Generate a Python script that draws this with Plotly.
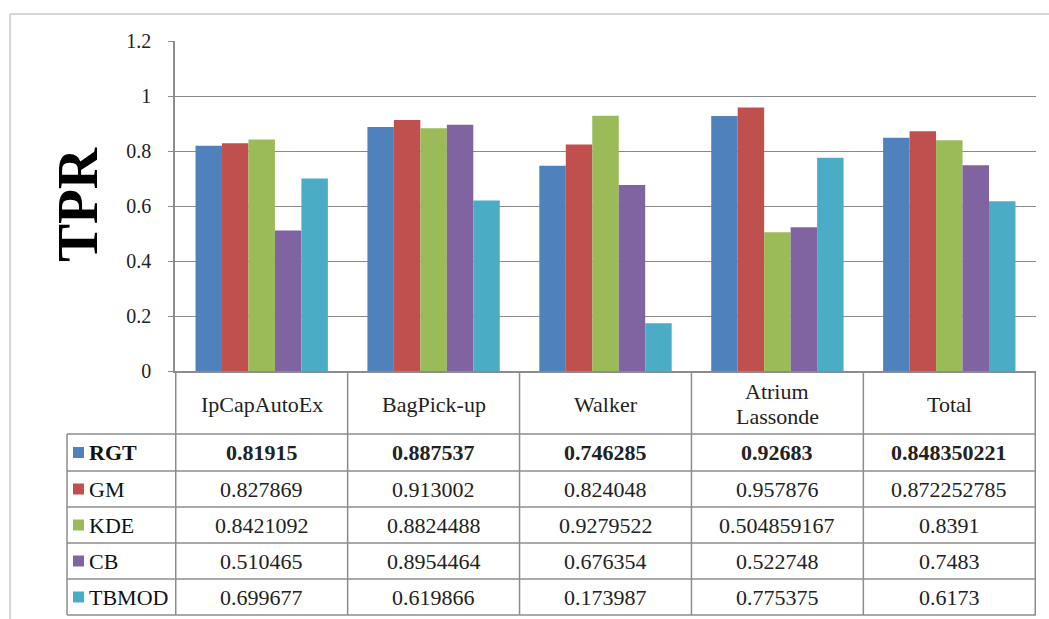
import plotly.graph_objects as go

# ---- data ----
categories = ["IpCapAutoEx", "BagPick-up", "Walker", "Atrium Lassonde", "Total"]
series_names = ["RGT", "GM", "KDE", "CB", "TBMOD"]
rgt = [0.81915, 0.887537, 0.746285, 0.92683, 0.848350221]
gm = [0.827869, 0.913002, 0.824048, 0.957876, 0.872252785]
kde = [0.8421092, 0.8824488, 0.9279522, 0.504859167, 0.8391]
cb = [0.510465, 0.8954464, 0.676354, 0.522748, 0.7483]
tbmod = [0.699677, 0.619866, 0.173987, 0.775375, 0.6173]
series_values = [rgt, gm, kde, cb, tbmod]
colors = ["#4F81BD", "#C0504D", "#9BBB59", "#8064A2", "#4BACC6"]
y_title = "TPR"

W, H = 1049, 619
FONT = "Liberation Serif"
GRID = "#8a8a8a"
LINE = "#8c8c8c"


def px(x):
    return x / W


def py(y):
    return 1 - y / H


fig = go.Figure()
for name, vals, col in zip(series_names, series_values, colors):
    fig.add_trace(go.Bar(x=categories, y=vals, name=name, marker=dict(color=col, line=dict(width=0))))

shapes = []
annotations = []

# outer chart frame (left and top edges visible)
shapes.append(dict(type="line", xref="paper", yref="paper", x0=px(10), x1=px(10), y0=py(14), y1=0,
                   line=dict(color="#c8c8c8", width=1.5)))
shapes.append(dict(type="line", xref="paper", yref="paper", x0=px(10), x1=1, y0=py(14), y1=py(14),
                   line=dict(color="#c8c8c8", width=1.5)))

# data table grid
row_edges = [434, 471, 507, 543, 579, 615]
for k in range(len(categories) + 1):
    shapes.append(dict(type="line", xref="x", yref="paper", x0=k - 0.5, x1=k - 0.5,
                       y0=py(371), y1=py(615), line=dict(color=LINE, width=1.5)))
for ye in row_edges:
    shapes.append(dict(type="line", xref="paper", yref="paper", x0=px(67), x1=px(1036),
                       y0=py(ye), y1=py(ye), line=dict(color=LINE, width=1.5)))
shapes.append(dict(type="line", xref="paper", yref="paper", x0=px(67), x1=px(67),
                   y0=py(434), y1=py(615), line=dict(color=LINE, width=1.5)))

# header labels (multi-word names wrap to two lines)
for c in categories:
    lines = c.split(" ")
    n = len(lines)
    for j, ln in enumerate(lines):
        annotations.append(dict(xref="x", yref="paper", x=c, y=py(404 + (j - (n - 1) / 2) * 25),
                                text=ln, showarrow=False,
                                font=dict(family=FONT, size=22, color="#222222"),
                                xanchor="center", yanchor="middle"))

# table rows with legend keys
for i, (name, vals, col) in enumerate(zip(series_names, series_values, colors)):
    yc = (row_edges[i] + row_edges[i + 1]) / 2
    bold = (i == 0)
    shapes.append(dict(type="rect", xref="paper", yref="paper", x0=px(73), x1=px(84),
                       y0=py(yc + 5.5), y1=py(yc - 5.5), fillcolor=col, line=dict(width=0)))
    annotations.append(dict(xref="paper", yref="paper", x=px(87), y=py(yc),
                            text=f"<b>{name}</b>" if bold else name, showarrow=False,
                            font=dict(family=FONT, size=22, color="#111111"),
                            xanchor="left", yanchor="middle"))
    for c, v in zip(categories, vals):
        annotations.append(dict(xref="x", yref="paper", x=c, y=py(yc),
                                text=f"<b>{v}</b>" if bold else str(v), showarrow=False,
                                font=dict(family=FONT, size=22, color="#222222"),
                                xanchor="center", yanchor="middle"))

# y title
annotations.append(dict(xref="paper", yref="paper", x=px(77), y=py(205), text=f"<b>{y_title}</b>",
                        textangle=-90, showarrow=False, font=dict(family=FONT, size=57, color="#000000"),
                        xanchor="center", yanchor="middle"))

fig.update_layout(
    width=W, height=H,
    margin=dict(l=0, r=0, t=0, b=0, pad=0, autoexpand=False),
    paper_bgcolor="white", plot_bgcolor="white",
    barmode="group", bargap=0.23, bargroupgap=0,
    showlegend=False,
    shapes=shapes, annotations=annotations,
    xaxis=dict(domain=[px(175), px(1036)], showticklabels=False, ticks="", automargin=False,
               showline=True, linecolor=LINE, linewidth=1.5, showgrid=False, zeroline=False),
    yaxis=dict(domain=[py(371), py(41)], range=[0, 1.2], dtick=0.2, tick0=0, automargin=False,
               showgrid=True, gridcolor=GRID, gridwidth=1.2, zeroline=False,
               showline=True, linecolor=LINE, linewidth=1.5,
               ticks="outside", ticklen=5, tickcolor=LINE, ticklabelstandoff=13,
               tickfont=dict(family=FONT, size=20, color="#222222")),
)

fig.write_html("out.html", config={"displayModeBar": False},
               post_script="document.body.style.margin='0';document.body.style.overflow='hidden';")
